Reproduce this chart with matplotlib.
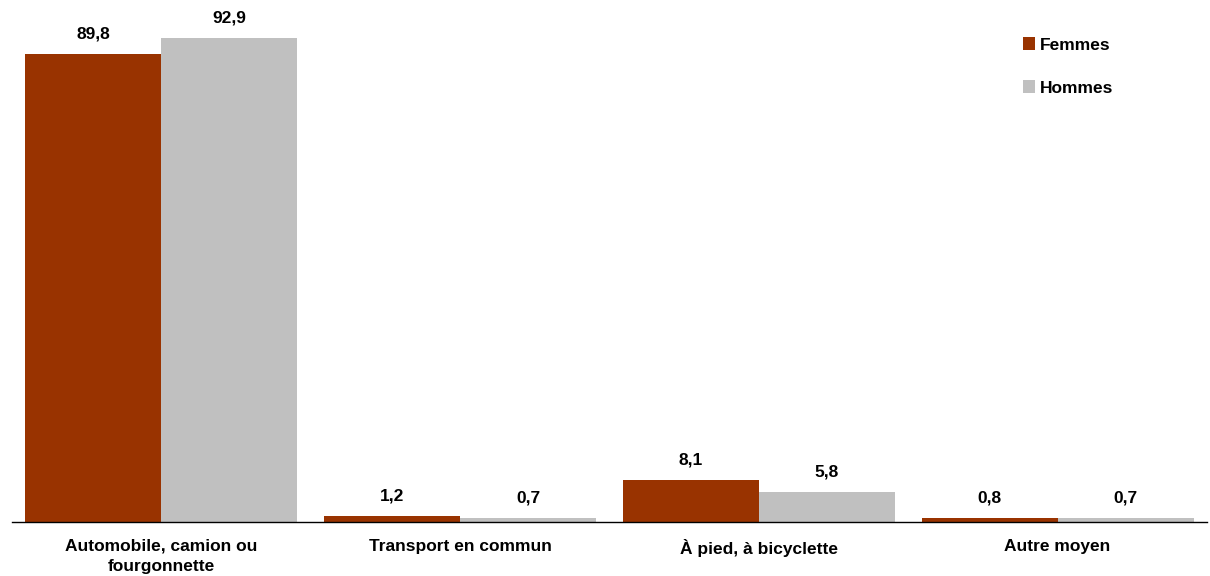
import numpy as np
import matplotlib
matplotlib.use('Agg')
import matplotlib.pyplot as plt

# données
categories = ['Automobile, camion ou\nfourgonnette', 'Transport en commun',
              'À pied, à bicyclette', 'Autre moyen']
femmes = [89.8, 1.2, 8.1, 0.8]
hommes = [92.9, 0.7, 5.8, 0.7]

plt.rcParams['font.family'] = ['Liberation Sans', 'DejaVu Sans']
plt.rcParams['font.weight'] = 'bold'

fig = plt.figure(figsize=(12.1, 5.76), dpi=100)
ax = fig.add_axes([12 / 1210, 54 / 576, 1195 / 1210, 521 / 576])

x = np.arange(len(categories))
w = 0.455
b1 = ax.bar(x - w / 2, femmes, w, color='#993300', label='Femmes')
b2 = ax.bar(x + w / 2, hommes, w, color='#c0c0c0', label='Hommes')

for bars, vals in [(b1, femmes), (b2, hommes)]:
    for rect, v in zip(bars, vals):
        ax.annotate(f'{v:.1f}'.replace('.', ','),
                    (rect.get_x() + rect.get_width() / 2, rect.get_height()),
                    xytext=(0, 9), textcoords='offset points',
                    ha='center', va='bottom', fontsize=12.5, fontweight='bold')

ax.set_xlim(-0.5, 3.5)
ax.set_ylim(0, 100)
ax.set_xticks(x)
ax.set_xticklabels(categories, fontsize=12.5, fontweight='bold', linespacing=1.45)
ax.tick_params(axis='x', length=0, pad=12)
ax.set_yticks([])
for s in ['top', 'right', 'left']:
    ax.spines[s].set_visible(False)
ax.spines['bottom'].set_color('black')
ax.spines['bottom'].set_linewidth(1)

ax.legend(loc='upper right', bbox_to_anchor=(0.935, 0.96), frameon=False,
          handlelength=0.7, handleheight=0.7, handletextpad=0.3,
          labelspacing=1.6, prop={'weight': 'bold', 'size': 12.5})

fig.savefig('out.png', dpi=100)
